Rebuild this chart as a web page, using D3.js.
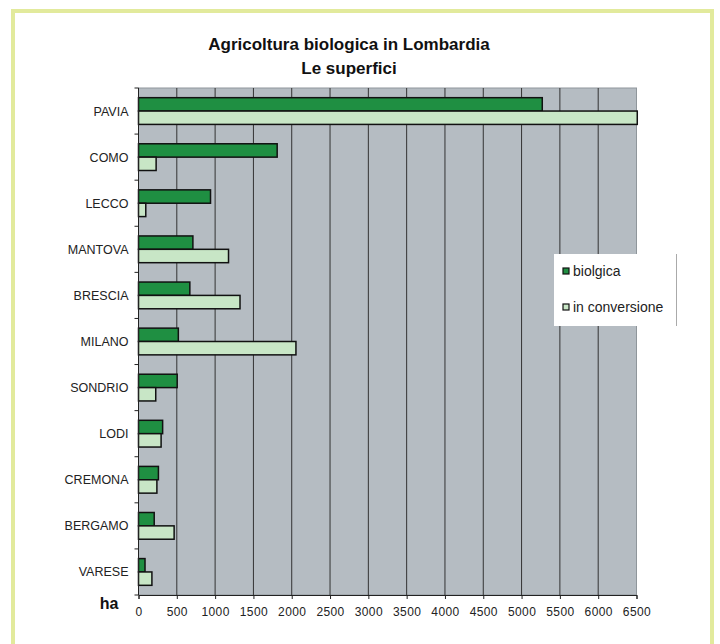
<!DOCTYPE html>
<html><head><meta charset="utf-8">
<script src="https://cdn.jsdelivr.net/npm/d3@7/dist/d3.min.js"></script>
<style>body{margin:0;background:#fff}svg{display:block}text{font-family:"Liberation Sans",Arial,sans-serif}</style>
</head><body>
<script>
const provinces = ["PAVIA","COMO","LECCO","MANTOVA","BRESCIA","MILANO","SONDRIO","LODI","CREMONA","BERGAMO","VARESE"];
const biologica = [5270, 1810, 940, 710, 670, 520, 505, 315, 260, 205, 85];
const inConversione = [6510, 230, 95, 1175, 1325, 2055, 225, 295, 240, 465, 175];
const seriesNames = ["biolgica", "in conversione"];
const xTicks = [0,500,1000,1500,2000,2500,3000,3500,4000,4500,5000,5500,6000,6500];

const W = 720, H = 644;
const svg = d3.select("body").append("svg").attr("width", W).attr("height", H);

// outer frame
svg.append("rect").attr("x", 13).attr("y", 11).attr("width", 699).attr("height", 660)
  .attr("fill", "none").attr("stroke", "#e2ea9c").attr("stroke-width", 4);

// titles
svg.append("text").attr("x", 349).attr("y", 50).attr("text-anchor", "middle")
  .attr("font-size", 17).attr("font-weight", "bold").attr("fill", "#111").text("Agricoltura biologica in Lombardia");
svg.append("text").attr("x", 349).attr("y", 74).attr("text-anchor", "middle")
  .attr("font-size", 17).attr("font-weight", "bold").attr("fill", "#111").text("Le superfici");

const pL = 138.5, pR = 636.5, pT = 88, pB = 595;
const x = d3.scaleLinear().domain([0, 6500]).range([pL, pR]);
const y = d3.scaleBand().domain(provinces).range([pT, pB]).paddingInner(0.42).paddingOuter(0.21);
const yInner = d3.scaleBand().domain(seriesNames).range([0, y.bandwidth()]);

// plot background
svg.append("rect").attr("x", pL).attr("y", pT).attr("width", pR - pL).attr("height", pB - pT)
  .attr("fill", "#b5bcc2").attr("stroke", "#8f969b").attr("stroke-width", 1);

// grid
svg.append("g").selectAll("line").data(xTicks.slice(1, -1)).join("line")
  .attr("x1", d => x(d)).attr("x2", d => x(d)).attr("y1", pT).attr("y2", pB)
  .attr("stroke", "#333").attr("stroke-width", 1);

// bars
const colors = ["#1f8f42", "#c8e6c6"];
const g = svg.append("g");
provinces.forEach((p, i) => {
  [biologica[i], inConversione[i]].forEach((v, j) => {
    g.append("rect").attr("x", x(0)).attr("y", y(p) + yInner(seriesNames[j]))
      .attr("width", x(v) - x(0)).attr("height", yInner.bandwidth())
      .attr("fill", colors[j]).attr("stroke", "#111").attr("stroke-width", 1.5);
  });
});

// y axis
const yAxis = svg.append("g").attr("transform", `translate(${pL},0)`);
yAxis.append("line").attr("x1", 0).attr("x2", 0).attr("y1", pT).attr("y2", pB).attr("stroke", "#222");
const bounds = d3.range(provinces.length + 1).map(i => pT + i * (pB - pT) / provinces.length);
yAxis.selectAll("line.t").data(bounds).join("line").attr("class", "t")
  .attr("x1", -4).attr("x2", 0).attr("y1", d => d).attr("y2", d => d).attr("stroke", "#222");
yAxis.selectAll("text").data(provinces).join("text")
  .attr("x", -10).attr("y", d => y(d) + y.bandwidth() / 2 + 4.5).attr("text-anchor", "end")
  .attr("font-size", 12.5).attr("fill", "#222").text(d => d);

// x axis
const xAxis = svg.append("g").attr("transform", `translate(0,${pB})`)
  .call(d3.axisBottom(x).tickValues(xTicks).tickSize(4).tickPadding(8).tickFormat(d3.format("d")));
xAxis.select(".domain").attr("stroke", "#222");
xAxis.selectAll(".tick line").attr("stroke", "#222");
xAxis.selectAll(".tick text").attr("font-size", 12).attr("fill", "#222")
  .style("font-family", "'Liberation Sans',Arial,sans-serif").style("letter-spacing", "0.4px");

svg.append("text").attr("x", 109).attr("y", 609).attr("text-anchor", "middle")
  .attr("font-size", 16).attr("font-weight", "bold").attr("fill", "#111").text("ha");

// legend
const lg = svg.append("g").attr("transform", "translate(554,254)");
lg.append("rect").attr("width", 122).attr("height", 72).attr("fill", "#fff");
lg.append("line").attr("x1", 122.5).attr("x2", 122.5).attr("y1", 0).attr("y2", 72).attr("stroke", "#aaa");
seriesNames.forEach((s, j) => {
  const yy = 17 + j * 36;
  lg.append("rect").attr("x", 9).attr("y", yy - 3).attr("width", 6).attr("height", 6)
    .attr("fill", colors[j]).attr("stroke", "#111").attr("stroke-width", 1.2);
  lg.append("text").attr("x", 19).attr("y", yy + 5).attr("font-size", 14).attr("fill", "#222").text(s);
});
</script>
</body></html>
